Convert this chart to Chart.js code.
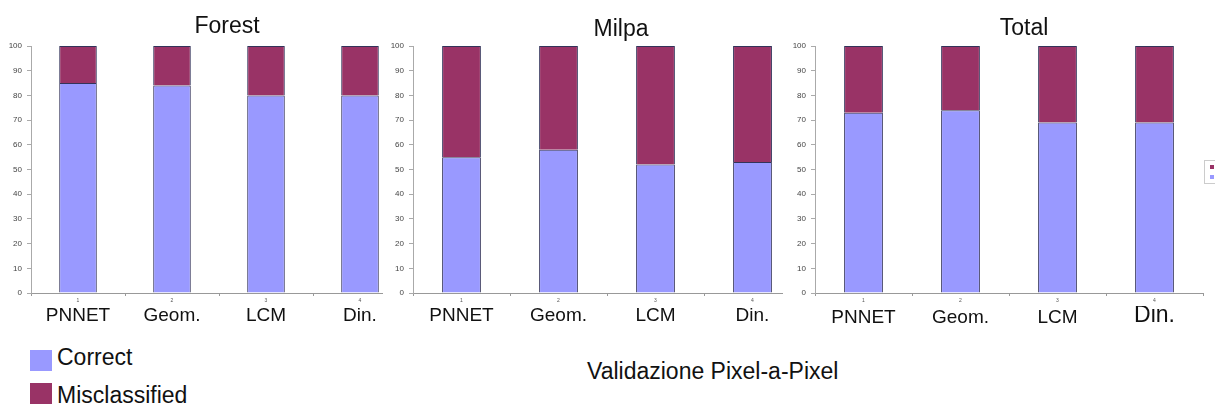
<!DOCTYPE html>
<html>
<head>
<meta charset="utf-8">
<script src="https://cdn.jsdelivr.net/npm/chart.js@4/dist/chart.umd.min.js"></script>
<style>
  body { margin: 0; width: 1215px; height: 405px; overflow: hidden; background: #fff; font-family: "Liberation Sans", Arial, sans-serif; color: #111; }
  .panel { position: absolute; top: 0; height: 340px; overflow: hidden; background: #fff; }
  .panel canvas { position: absolute; left: 0; top: 0; }
  .title { position: absolute; width: 200px; text-align: center; font-size: 23px; line-height: 28px; }
  .leg { position: absolute; left: 30px; width: 22px; height: 21px; }
  .legtxt { position: absolute; left: 57px; font-size: 23px; line-height: 28px; }
  #mini { position: absolute; left: 1204px; top: 160px; width: 14px; height: 22px; border: 1px solid #ccc; }
  #mini span { position: absolute; left: 5px; width: 4px; height: 4px; }
</style>
</head>
<body>
<div class="panel" style="left:0;width:383px"><canvas id="forest"></canvas></div>
<div class="panel" style="left:383px;width:400px"><canvas id="milpa"></canvas></div>
<div class="panel" style="left:783px;width:432px"><canvas id="total"></canvas></div>

<div class="title" style="left:127px;top:11px">Forest</div>
<div class="title" style="left:521px;top:14px">Milpa</div>
<div class="title" style="left:924px;top:13px">Total</div>

<div class="leg" style="top:350px;background:#9999ff"></div>
<div class="legtxt" style="top:343px">Correct</div>
<div class="leg" style="top:383px;background:#993366"></div>
<div class="legtxt" style="top:381px">Misclassified</div>
<div style="position:absolute;left:587px;top:357px;font-size:23px;line-height:28px">Validazione Pixel-a-Pixel</div>

<div id="mini"><span style="top:4px;background:#993366"></span><span style="top:14px;background:#9999ff"></span></div>

<script>
// etichette e valori (percentuali)
const methodLabels = ['PNNET', 'Geom.', 'LCM', 'Din.'];
const tickNumbers = ['1', '2', '3', '4'];

const forestCorrect = [85, 84, 80, 80];
const forestWrong = [15, 16, 20, 20];
const milpaCorrect = [55, 58, 52, 53];
const milpaWrong = [45, 42, 48, 47];
const totalCorrect = [73, 74, 69, 69];
const totalWrong = [27, 26, 31, 31];

const CORRECT_COLOR = '#9999ff';
const WRONG_COLOR = '#993366';

function makePanel(id, correct, wrong, cfg) {
    const canvas = document.getElementById(id);
    canvas.width = cfg.width;
    canvas.height = 340;
    canvas.style.width = cfg.width + 'px';
    canvas.style.height = '340px';

    return new Chart(canvas, {
        type: 'bar',
        data: {
            labels: tickNumbers,
            datasets: [
                { label: 'Correct', data: correct, backgroundColor: CORRECT_COLOR, borderColor: '#33335a', borderWidth: 1 },
                { label: 'Misclassified', data: wrong, backgroundColor: WRONG_COLOR, borderColor: '#33335a', borderWidth: 1 },
            ],
        },
        options: {
            responsive: false,
            animation: false,
            layout: { padding: { left: 0, right: cfg.padRight, top: 46, bottom: cfg.padBottom } },
            datasets: { bar: { categoryPercentage: 1, barPercentage: 0.4 } },
            plugins: { legend: { display: false }, title: { display: false }, tooltip: { enabled: false } },
            scales: {
                x: {
                    stacked: true,
                    weight: 0,
                    afterFit: (s) => { s.height = cfg.xHeight; },
                    border: { color: '#999' },
                    grid: { drawOnChartArea: false, tickLength: 3, color: '#999' },
                    ticks: { font: { size: 5, family: 'Liberation Sans' }, color: '#555', padding: 2 },
                },
                x2: {
                    type: 'category',
                    position: 'bottom',
                    labels: methodLabels,
                    offset: true,
                    weight: 1,
                    afterFit: (s) => { s.height = 30; },
                    border: { display: false },
                    grid: { display: false, drawTicks: false },
                    ticks: {
                        padding: 0,
                        color: '#111',
                        // nel pannello Total "Din." è scritto più grande
                        font: (ctx) => (cfg.bigLast && ctx.index === 3)
                            ? { size: 23, family: 'Liberation Sans', lineHeight: 0.85 }
                            : { size: 19, family: 'Liberation Sans' },
                    },
                },
                y: {
                    stacked: true,
                    min: 0,
                    max: 100,
                    afterFit: (s) => { s.width = cfg.yWidth; },
                    border: { color: '#aaa' },
                    grid: { drawOnChartArea: false, tickLength: 4, color: '#aaa' },
                    ticks: { stepSize: 10, padding: 5, color: '#444', font: { size: 8, family: 'Liberation Sans' } },
                },
            },
        },
    });
}

makePanel('forest', forestCorrect, forestWrong, { width: 410, padRight: 3, yWidth: 31, xHeight: 11, padBottom: 6 });
makePanel('milpa', milpaCorrect, milpaWrong, { width: 421, padRight: 3, yWidth: 30, xHeight: 11, padBottom: 6 });
makePanel('total', totalCorrect, totalWrong, { width: 432, padRight: 12, yWidth: 32, xHeight: 13, padBottom: 4, bigLast: true });
</script>
</body>
</html>
